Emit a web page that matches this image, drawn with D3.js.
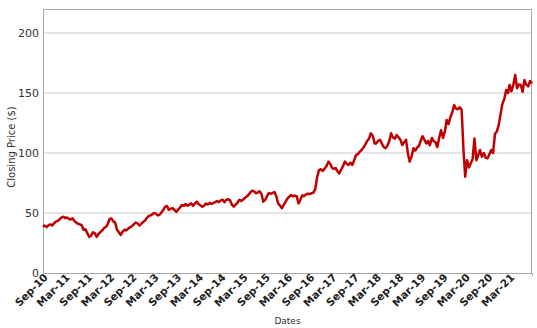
<!DOCTYPE html>
<html>
<head>
<meta charset="utf-8">
<script src="https://cdn.jsdelivr.net/npm/d3@7"></script>
<style>
  html, body { margin: 0; padding: 0; background: #fff; }
  svg { display: block; font-family: "DejaVu Sans", sans-serif; }
</style>
</head>
<body>
<svg id="chart" width="537" height="328"></svg>
<script>
// Semi-monthly closing prices (1st and 16th of each month), Sep 2010 .. Sep 2021
const closingPrices = [
  // Sep10 - Aug11
  38.6, 39.5, 38.2, 39.8, 40.5, 39.6, 41.5, 42.8, 43.5, 44.8, 46.4, 46.9, 45.8, 46.3, 45.2, 44.5, 45.6, 43.5, 42, 41, 40.5, 39.8, 35.8, 36.5,
  // Sep11 - Aug12
  33, 30, 31, 34, 33, 30, 32.5, 34, 35.5, 37.5, 38.5, 41, 45, 45.5, 43, 42, 36, 34, 31.7, 34.5, 36, 35.5, 37, 38,
  // Sep12 - Aug13
  39, 40.5, 42, 41.5, 39.6, 41, 42.5, 43.5, 45.8, 47.5, 48, 49, 50, 49.5, 48, 48.5, 50.5, 52.5, 55.3, 55.8, 52.5, 53.5, 54, 52.5,
  // Sep13 - Aug14
  51, 53, 54.5, 56.7, 56, 57.5, 56, 57, 58, 56, 58, 59.4, 57.5, 56.5, 55.3, 56, 57.8, 57, 58.5, 57.5, 58.3, 59, 60, 59,
  // Sep14 - Aug15
  60.5, 61, 59, 61, 61.4, 60.5, 57, 55.3, 57, 58.5, 61, 60, 61, 62.5, 63.6, 65, 67, 68.6, 68, 66.5, 67, 68, 66, 59.4,
  // Sep15 - Aug16
  61, 64, 66.7, 66, 66.7, 67.5, 64, 58, 56, 54, 57, 59.4, 62, 63.6, 65, 64, 64.5, 64, 58, 61, 64.7, 64, 65.5, 66,
  // Sep16 - Aug17
  65.8, 66.5, 67, 70, 80, 85.8, 86.5, 85, 87, 89, 92.8, 91, 88, 86.7, 87.5, 85, 83, 86, 89, 92.8, 91, 90, 92, 90,
  // Sep17 - Aug18
  94, 98.3, 99, 101, 102.5, 104.5, 107, 110, 112, 116.4, 114, 108, 108, 110, 111, 108, 105, 104, 106, 110, 116.4, 113, 112, 115,
  // Sep18 - Aug19
  113, 111, 106.7, 109, 111, 100, 92.8, 97, 104, 102, 104.7, 106, 110, 114, 111, 108, 110, 106.5, 112.5, 110, 109, 105, 113, 119,
  // Sep19 - Aug20
  112.5, 118, 127.5, 124, 130, 134, 140, 137, 136.5, 138, 136, 102.5, 80.3, 94, 88, 91.5, 95, 112, 94, 98, 102.5, 97, 100, 96,
  // Sep20 - Aug21
  95.6, 99, 102.5, 100, 116, 118, 123, 132, 141, 145, 152.5, 150, 156.7, 151.4, 157, 165, 154, 157, 156.7, 151, 160.8, 157, 155.5, 160,
  // Sep21
  158
];
const yTicks = [0, 50, 100, 150, 200];
const xTickLabels = ["Sep-10","Mar-11","Sep-11","Mar-12","Sep-12","Mar-13","Sep-13","Mar-14","Sep-14","Mar-15","Sep-15",
  "Mar-16","Sep-16","Mar-17","Sep-17","Mar-18","Sep-18","Mar-19","Sep-19","Mar-20","Sep-20","Mar-21"];
const xTitle = "Dates";
const yTitle = "Closing Price ($)";

const data = closingPrices.map((v, i) => ({
  date: new Date(2010, 8 + Math.floor(i / 2), i % 2 ? 16 : 1),
  value: v
}));
const parseTick = d3.timeParse("%b-%y");
const tickDates = xTickLabels.map(parseTick);

const W = 537, H = 328;
const m = { left: 43, right: 5, top: 9, bottom: 55 };
const svg = d3.select("#chart");

const x = d3.scaleTime()
  .domain([new Date(2010, 8, 1), new Date(2021, 8, 1)])
  .range([m.left, W - m.right]);
const y = d3.scaleLinear().domain([0, 220]).range([H - m.bottom, m.top]);

// gridlines
svg.append("g")
  .selectAll("line")
  .data(yTicks.filter(d => d > 0))
  .join("line")
  .attr("x1", m.left).attr("x2", W - m.right)
  .attr("y1", d => y(d)).attr("y2", d => y(d))
  .attr("stroke", "#c8c8c8").attr("stroke-width", 1);

// frame
svg.append("rect")
  .attr("x", m.left + 0.5).attr("y", m.top + 0.5)
  .attr("width", W - m.right - m.left - 1).attr("height", H - m.bottom - m.top)
  .attr("fill", "none").attr("stroke", "#a8a8a8").attr("stroke-width", 1);

// y axis
const yAxis = svg.append("g")
  .attr("transform", `translate(${m.left},0)`)
  .call(d3.axisLeft(y).tickValues(yTicks).tickSize(0).tickPadding(4));
yAxis.select(".domain").attr("stroke", "#a8a8a8");
yAxis.selectAll("text").attr("font-size", 11).attr("fill", "#333").attr("font-family", "DejaVu Sans");

// x axis
const xAxis = svg.append("g")
  .attr("transform", `translate(0,${H - m.bottom})`)
  .call(d3.axisBottom(x).tickValues(tickDates).tickFormat(d3.timeFormat("%b-%y")).tickSize(3));
xAxis.select(".domain").attr("stroke", "#a8a8a8");
xAxis.selectAll(".tick line").attr("stroke", "#c8c8c8");
xAxis.selectAll("text")
  .attr("font-size", 10.5)
  .attr("font-weight", "bold")
  .attr("fill", "#222")
  .attr("font-family", "DejaVu Sans")
  .attr("text-anchor", "end")
  .attr("dy", null)
  .attr("y", null)
  .attr("transform", "translate(5,5) rotate(-45)");

// line
const line = d3.line().x(d => x(d.date)).y(d => y(d.value));
svg.append("path")
  .datum(data)
  .attr("fill", "none")
  .attr("stroke", "#c00000")
  .attr("stroke-width", 2.5)
  .attr("stroke-linejoin", "round")
  .attr("d", line);

// titles
svg.append("text")
  .attr("x", (m.left + W - m.right) / 2).attr("y", 324)
  .attr("text-anchor", "middle")
  .attr("font-size", 9).attr("fill", "#333")
  .text(xTitle);
svg.append("text")
  .attr("transform", `translate(14.5,${(m.top + H - m.bottom) / 2 + 6}) rotate(-90)`)
  .attr("text-anchor", "middle")
  .attr("font-size", 10).attr("fill", "#333")
  .text(yTitle);
</script>
</body>
</html>
